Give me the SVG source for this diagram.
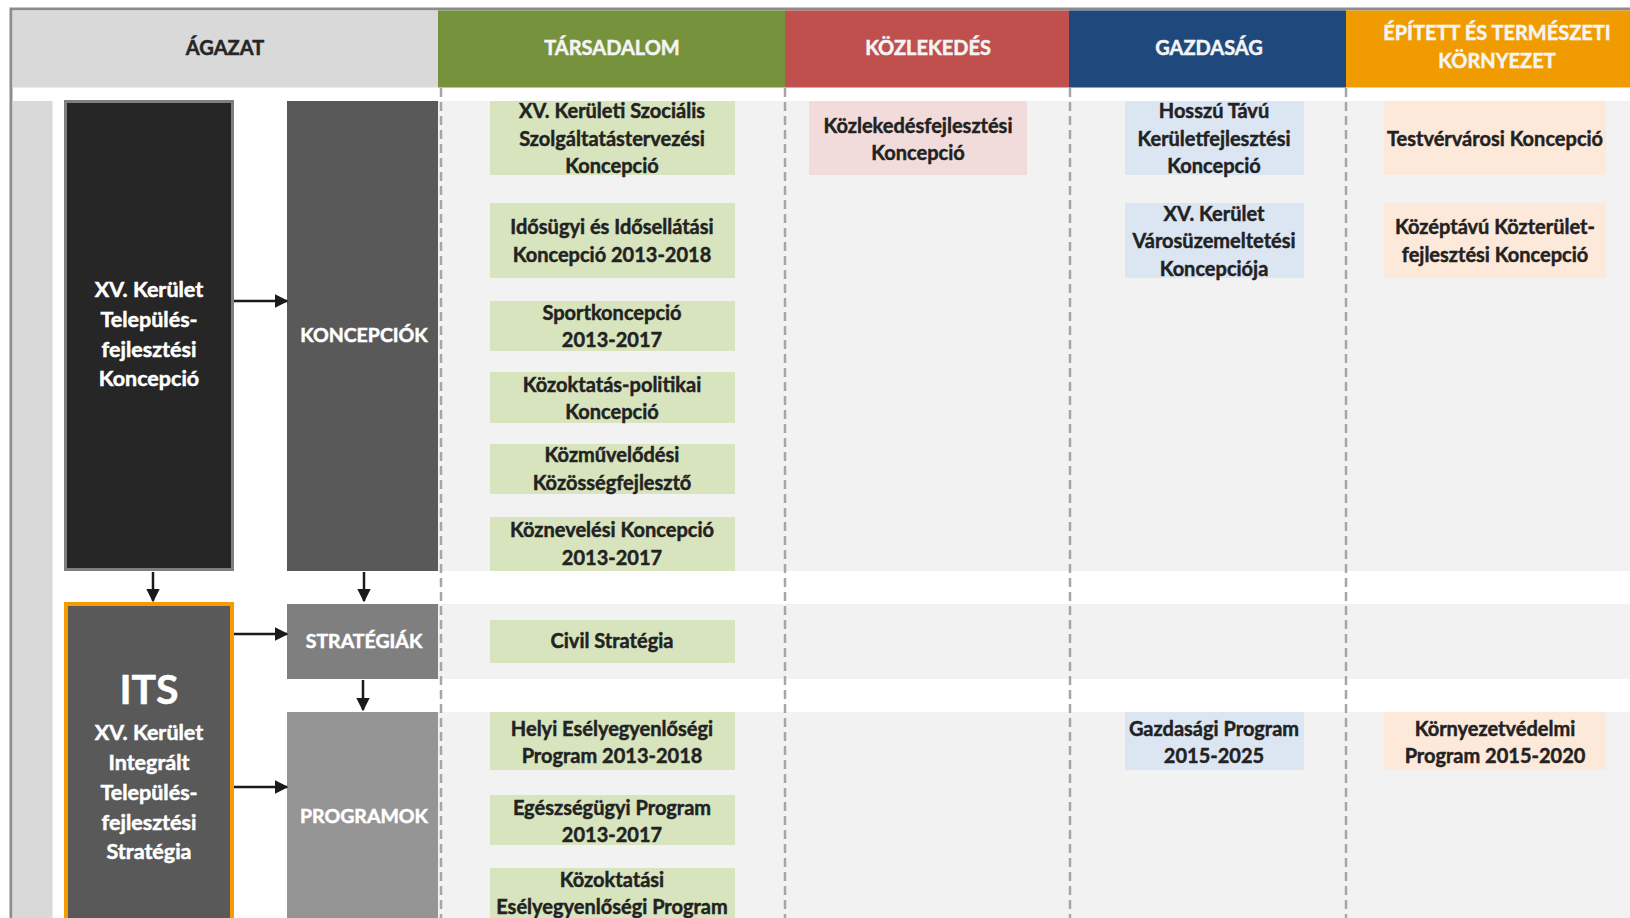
<svg xmlns="http://www.w3.org/2000/svg" width="1630" height="918" viewBox="0 0 1630 918">
<defs>
<style>
text{font-family:Lato,"Open Sans","Liberation Sans",sans-serif;font-weight:bold;text-anchor:middle}
.hd{font-size:20px;fill:#f4f4f4;stroke:#f4f4f4;stroke-width:0.5}
.bx{font-size:20px;fill:#222;stroke:#222;stroke-width:0.45}
.wt{fill:#ffffff;font-size:19.5px;stroke:#ffffff;stroke-width:0.5}
.g{fill:#d7e4bd}.p{fill:#f2dcdb}.b{fill:#dce6f2}.o{fill:#fde9d9}
.dash{stroke:#a6a6a6;stroke-width:2.5;stroke-dasharray:9 5;fill:none}
.con{stroke:#1a1a1a;stroke-width:2.5;fill:none;marker-end:url(#ah)}
</style>
<marker id="ah" viewBox="0 0 10 10" refX="9" refY="5" markerWidth="5.5" markerHeight="5.5" orient="auto" markerUnits="strokeWidth">
<path d="M0,0 L10,5 L0,10 z" fill="#1a1a1a"/>
</marker>
</defs>
<rect width="1630" height="918" fill="#ffffff"/>
<g id="header">
<rect x="11" y="9" width="1630" height="920" fill="none" stroke="#8c8c8c" stroke-width="3"/>
<rect x="12.5" y="10.5" width="426" height="77" fill="#d9d9d9"/>
<rect x="438" y="10.5" width="347" height="77" fill="#76923c"/>
<rect x="785" y="10.5" width="284" height="77" fill="#c0504d"/>
<rect x="1069" y="10.5" width="277" height="77" fill="#1f497d"/>
<rect x="1346" y="10.5" width="284" height="77" fill="#f09c00"/>
<text x="225" y="55" class="hd" style="fill:#262626;stroke:#262626">ÁGAZAT</text>
<text x="612" y="55" class="hd">TÁRSADALOM</text>
<text x="928" y="55" class="hd">KÖZLEKEDÉS</text>
<text x="1209" y="55" class="hd">GAZDASÁG</text>
<text x="1497" y="40" class="hd">ÉPÍTETT ÉS TERMÉSZETI</text>
<text x="1497" y="68" class="hd">KÖRNYEZET</text>
</g>
<g id="bands">
<rect x="12.5" y="101" width="40" height="820" fill="#d9d9d9"/>
<rect x="438" y="101" width="1192" height="470" fill="#f2f2f2"/>
<rect x="438" y="604" width="1192" height="75" fill="#f2f2f2"/>
<rect x="438" y="712" width="1192" height="206" fill="#f2f2f2"/>
</g>
<g id="dashes">
<line x1="441" y1="88" x2="441" y2="918" class="dash"/>
<line x1="785" y1="88" x2="785" y2="918" class="dash"/>
<line x1="1070" y1="88" x2="1070" y2="918" class="dash"/>
<line x1="1346" y1="88" x2="1346" y2="918" class="dash"/>
</g>
<g id="koncepcio-main">
<rect x="65.5" y="101.5" width="167" height="468" fill="#262626" stroke="#7f7f7f" stroke-width="3"/>
<text x="149" y="297" class="wt" style="font-size:21.5px">XV. Kerület</text>
<text x="149" y="327" class="wt" style="font-size:21.5px">Település-</text>
<text x="149" y="357" class="wt" style="font-size:21.5px">fejlesztési</text>
<text x="149" y="386" class="wt" style="font-size:21.5px">Koncepció</text>
</g>
<g id="its">
<rect x="66" y="604" width="166" height="330" fill="#595959" stroke="#f59c00" stroke-width="4"/>
<text x="149" y="704" class="wt" style="font-size:41px">ITS</text>
<text x="149" y="740" class="wt" style="font-size:21.5px">XV. Kerület</text>
<text x="149" y="770" class="wt" style="font-size:21.5px">Integrált</text>
<text x="149" y="800" class="wt" style="font-size:21.5px">Település-</text>
<text x="149" y="830" class="wt" style="font-size:21.5px">fejlesztési</text>
<text x="149" y="859" class="wt" style="font-size:21.5px">Stratégia</text>
</g>
<g id="koncepciok">
<rect x="287" y="101" width="151" height="470" fill="#595959"/>
<text x="364" y="342" class="wt">KONCEPCIÓK</text>
</g>
<g id="strategiak">
<rect x="287" y="604" width="151" height="75" fill="#7f7f7f"/>
<text x="364" y="648" class="wt">STRATÉGIÁK</text>
</g>
<g id="programok">
<rect x="287" y="712" width="151" height="206" fill="#959595"/>
<text x="364" y="823" class="wt">PROGRAMOK</text>
</g>
<g id="connectors">
<line x1="234" y1="301" x2="287" y2="301" class="con"/>
<line x1="153" y1="572" x2="153" y2="601" class="con"/>
<line x1="364" y1="572" x2="364" y2="601" class="con"/>
<line x1="234" y1="634" x2="287" y2="634" class="con"/>
<line x1="363" y1="680" x2="363" y2="710" class="con"/>
<line x1="234" y1="787" x2="287" y2="787" class="con"/>
</g>
<g id="t1"><rect x="490" y="101" width="245" height="74" class="g"/>
<text x="612" y="118" class="bx">XV. Kerületi Szociális</text><text x="612" y="146" class="bx">Szolgáltatástervezési</text><text x="612" y="173" class="bx">Koncepció</text></g>
<g id="t2"><rect x="490" y="203" width="245" height="75" class="g"/>
<text x="612" y="234" class="bx">Idősügyi és Idősellátási</text><text x="612" y="262" class="bx">Koncepció 2013-2018</text></g>
<g id="t3"><rect x="490" y="301" width="245" height="50" class="g"/>
<text x="612" y="320" class="bx">Sportkoncepció</text><text x="612" y="347" class="bx">2013-2017</text></g>
<g id="t4"><rect x="490" y="372" width="245" height="51" class="g"/>
<text x="612" y="392" class="bx">Közoktatás-politikai</text><text x="612" y="419" class="bx">Koncepció</text></g>
<g id="t5"><rect x="490" y="444" width="245" height="50" class="g"/>
<text x="612" y="462" class="bx">Közművelődési</text><text x="612" y="490" class="bx">Közösségfejlesztő</text></g>
<g id="t6"><rect x="490" y="517" width="245" height="54" class="g"/>
<text x="612" y="537" class="bx">Köznevelési Koncepció</text><text x="612" y="565" class="bx">2013-2017</text></g>
<g id="t7"><rect x="490" y="620" width="245" height="43" class="g"/>
<text x="612" y="648" class="bx">Civil Stratégia</text></g>
<g id="t8"><rect x="490" y="712" width="245" height="58" class="g"/>
<text x="612" y="736" class="bx">Helyi Esélyegyenlőségi</text><text x="612" y="763" class="bx">Program 2013-2018</text></g>
<g id="t9"><rect x="490" y="795" width="245" height="50" class="g"/>
<text x="612" y="815" class="bx">Egészségügyi Program</text><text x="612" y="842" class="bx">2013-2017</text></g>
<g id="t10"><rect x="490" y="868" width="245" height="60" class="g"/>
<text x="612" y="887" class="bx">Közoktatási</text><text x="612" y="914" class="bx">Esélyegyenlőségi Program</text></g>
<g id="k1"><rect x="809" y="101" width="218" height="74" class="p"/>
<text x="918" y="133" class="bx">Közlekedésfejlesztési</text><text x="918" y="160" class="bx">Koncepció</text></g>
<g id="g1"><rect x="1125" y="101" width="179" height="74" class="b"/>
<text x="1214" y="118" class="bx">Hosszú Távú</text><text x="1214" y="146" class="bx">Kerületfejlesztési</text><text x="1214" y="173" class="bx">Koncepció</text></g>
<g id="g2"><rect x="1125" y="203" width="179" height="75" class="b"/>
<text x="1214" y="221" class="bx">XV. Kerület</text><text x="1214" y="248" class="bx">Városüzemeltetési</text><text x="1214" y="276" class="bx">Koncepciója</text></g>
<g id="g3"><rect x="1125" y="712" width="179" height="58" class="b"/>
<text x="1214" y="736" class="bx">Gazdasági Program</text><text x="1214" y="763" class="bx">2015-2025</text></g>
<g id="e1"><rect x="1384" y="101" width="222" height="74" class="o"/>
<text x="1495" y="146" class="bx">Testvérvárosi Koncepció</text></g>
<g id="e2"><rect x="1384" y="203" width="222" height="75" class="o"/>
<text x="1495" y="234" class="bx">Középtávú Közterület-</text><text x="1495" y="262" class="bx">fejlesztési Koncepció</text></g>
<g id="e3"><rect x="1384" y="712" width="222" height="58" class="o"/>
<text x="1495" y="736" class="bx">Környezetvédelmi</text><text x="1495" y="763" class="bx">Program 2015-2020</text></g>
</svg>
